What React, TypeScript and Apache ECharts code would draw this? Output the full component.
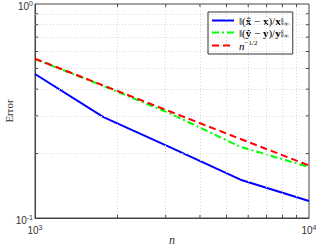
import React, { useEffect, useRef } from "react";
import * as echarts from "echarts";

const nValues = [1000, 1778, 3162, 5623, 10000];
const errX = [0.471, 0.296, 0.212, 0.151, 0.120];
const errY = [0.553, 0.414, 0.305, 0.215, 0.173];
const refRate = [0.555, 0.416, 0.312, 0.234, 0.176];
const xMinorTicks = [2000, 3000, 4000, 5000, 6000, 7000, 8000, 9000];
const yMinorTicks = [0.2, 0.3, 0.4, 0.5, 0.6, 0.7, 0.8, 0.9];
const xRange = [1000, 10000];
const yRange = [0.1, 1];
const seriesNames = ["errx", "erry", "rate"];

const SERIF = "'Liberation Serif', 'DejaVu Serif', serif";
const SANS = "'Liberation Sans', Arial, sans-serif";

export default function App() {
  const ref = useRef<HTMLDivElement>(null);
  useEffect(() => {
    if (!ref.current) return;
    const chart = echarts.init(ref.current, null, { renderer: "svg" });
    const tickRich = {
      b: { fontFamily: SANS, fontSize: 10, color: "#333", lineHeight: 13 },
      s: { fontFamily: SANS, fontSize: 7, color: "#333", verticalAlign: "top", lineHeight: 8 },
    };
    const expLabel = (v: number) => {
      const e = Math.round(Math.log10(v));
      return `{b|10}{s|${e}}`;
    };
    const legendRich = {
      n: { fontFamily: SERIF, fontSize: 11, color: "#000", lineHeight: 13 },
      b: { fontFamily: SERIF, fontSize: 11, fontWeight: "bold", color: "#000", lineHeight: 13 },
      i: { fontFamily: SERIF, fontSize: 11, fontStyle: "italic", color: "#000", lineHeight: 13 },
      sub: { fontFamily: SERIF, fontSize: 7, color: "#000", verticalAlign: "bottom", lineHeight: 8 },
      sup: { fontFamily: SERIF, fontSize: 7, color: "#000", verticalAlign: "top", lineHeight: 8 },
    };
    const legendText: Record<string, string> = {
      errx: "{n|‖(}{b|x\u0302}{n| − }{b|x}{n|)/}{b|x}{n|‖}{sub|∞}",
      erry: "{n|‖(}{b|y\u0302}{n| − }{b|y}{n|)/}{b|y}{n|‖}{sub|∞}",
      rate: "{i|n}{sup|−1/2}",
    };
    const pair = (vals: number[]) => nValues.map((n, i) => [n, vals[i]]);

    const tickColor = "#444";
    const markPoints = [
      ...xMinorTicks.map((v) => ({ coord: [v, yRange[0]], symbolSize: [1, 3], symbolOffset: [0, -1.5] })),
      ...xMinorTicks.map((v) => ({ coord: [v, yRange[1]], symbolSize: [1, 3], symbolOffset: [0, 1.5] })),
      ...yMinorTicks.map((v) => ({ coord: [xRange[0], v], symbolSize: [3, 1], symbolOffset: [1.5, 0] })),
      ...yMinorTicks.map((v) => ({ coord: [xRange[1], v], symbolSize: [3, 1], symbolOffset: [-1.5, 0] })),
    ];

    const lineStyles: Record<string, any> = {
      errx: { color: "#0000ff", width: 2, type: "solid" },
      erry: { color: "#00ff00", width: 2, type: [7, 3, 2, 3] },
      rate: { color: "#ff0000", width: 2, type: [7, 4] },
    };

    chart.setOption({
      animation: false,
      grid: {
        left: 35, top: 4, right: 7, bottom: 28,
        show: true, borderColor: "#444", borderWidth: 1,
        containLabel: false, outerBoundsMode: "none",
      },
      xAxis: {
        type: "log",
        logBase: 10,
        min: xRange[0],
        max: xRange[1],
        name: "n",
        nameLocation: "middle",
        nameGap: 16,
        nameMoveOverlap: false,
        nameTextStyle: { fontFamily: SERIF, fontStyle: "italic", fontSize: 12, color: "#333" },
        axisLine: { show: true, lineStyle: { color: "#444", width: 1 } },
        axisTick: { show: false },
        splitLine: { show: false },
        axisLabel: { margin: 6, formatter: expLabel, rich: tickRich, hideOverlap: false },
      },
      yAxis: {
        type: "log",
        logBase: 10,
        min: yRange[0],
        max: yRange[1],
        name: "Error",
        nameLocation: "middle",
        nameGap: 21,
        nameMoveOverlap: false,
        nameTextStyle: { fontFamily: SERIF, fontSize: 11, color: "#333" },
        axisLine: { show: true, lineStyle: { color: "#444", width: 1 } },
        axisTick: { show: false },
        splitLine: { show: false },
        axisLabel: { margin: 2, padding: [5, 0, 0, 0], formatter: expLabel, rich: tickRich, hideOverlap: false },
      },
      legend: {
        data: seriesNames.map((name) => ({
          name,
          itemStyle: { opacity: 0 },
          lineStyle: lineStyles[name],
        })),
        orient: "vertical",
        left: 208,
        top: 12,
        padding: [3, 4, 3, 3],
        itemGap: 0,
        itemWidth: 22,
        itemHeight: 12,
        borderColor: "#333",
        borderWidth: 1,
        backgroundColor: "#fff",
        formatter: (name: string) => legendText[name],
        textStyle: { rich: legendRich },
      },
      series: [
        {
          type: "line",
          name: "errx",
          data: pair(errX),
          symbol: "none",
          lineStyle: lineStyles.errx,
          itemStyle: { color: "#0000ff" },
          z: 3,
          markLine: {
            silent: true,
            symbol: ["none", "none"],
            label: { show: false },
            lineStyle: { color: "#d8d8d8", type: [1, 2], width: 1 },
            emphasis: { disabled: true },
            data: [
              ...xMinorTicks.map((v) => ({ xAxis: v })),
              ...yMinorTicks.map((v) => ({ yAxis: v })),
            ],
          },
          markPoint: {
            silent: true,
            symbol: "rect",
            label: { show: false },
            itemStyle: { color: tickColor },
            emphasis: { disabled: true },
            data: markPoints,
          },
        },
        {
          type: "line",
          name: "erry",
          data: pair(errY),
          symbol: "none",
          lineStyle: lineStyles.erry,
          itemStyle: { color: "#00ff00" },
          z: 4,
        },
        {
          type: "line",
          name: "rate",
          data: pair(refRate),
          symbol: "none",
          lineStyle: lineStyles.rate,
          itemStyle: { color: "#ff0000" },
          z: 5,
        },
      ],
    });
    return () => chart.dispose();
  }, []);
  return <div ref={ref} style={{ width: 316, height: 246, position: "absolute", left: 0, top: 0 }} />;
}
